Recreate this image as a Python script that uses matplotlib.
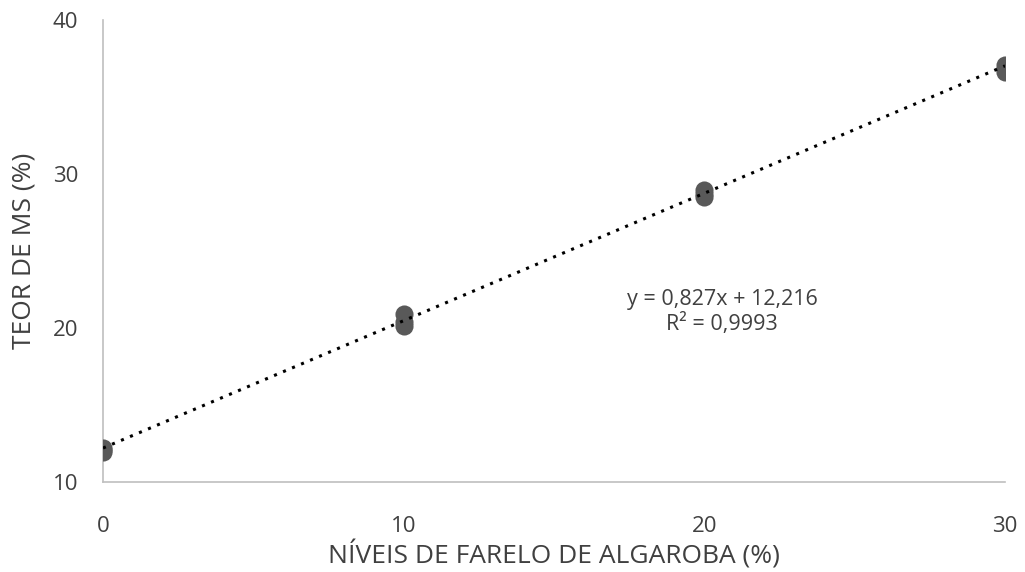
import matplotlib
matplotlib.use("Agg")
import matplotlib.pyplot as plt
import numpy as np

levels = [0, 0, 0, 10, 10, 10, 20, 20, 20, 30, 30, 30]
ms = [11.95, 12.1, 12.2, 20.15, 20.4, 20.9, 28.5, 28.7, 28.95, 36.6, 36.85, 37.1]
slope, intercept = 0.827, 12.216
eq_text = "y = 0,827x + 12,216\nR² = 0,9993"
xticks = [0, 10, 20, 30]
yticks = [10, 20, 30, 40]

plt.rcParams['font.family'] = ['Open Sans', 'DejaVu Sans']
fig = plt.figure(figsize=(10.25, 5.72), dpi=100)
ax = fig.add_axes([0.1005, 0.157, 0.88, 0.808])

ax.scatter(levels, ms, s=170, color='#595959', zorder=3, linewidths=0)
xx = np.array([min(levels), max(levels)])
ax.plot(xx, slope * xx + intercept, color='black', linestyle=(0, (1, 2.2)), linewidth=2.2, zorder=4)

ax.set_xlim(0, 30)
ax.set_ylim(10, 40)
ax.set_xticks(xticks)
ax.set_yticks(yticks)
ax.tick_params(length=0, labelsize=16, colors='#404040')
ax.tick_params(axis='y', pad=18)
ax.tick_params(axis='x', pad=24)
for s in ['top', 'right']:
    ax.spines[s].set_visible(False)
for s in ['left', 'bottom']:
    ax.spines[s].set_color('#BFBFBF')
    ax.spines[s].set_linewidth(1.2)

ax.set_xlabel("NÍVEIS DE FARELO DE ALGAROBA (%)", fontsize=19, color='#404040', va='center')
ax.xaxis.set_label_coords(0.5, -0.158)
ax.set_ylabel("TEOR DE MS (%)", fontsize=19, color='#404040', va='center')
ax.yaxis.set_label_coords(-0.0876, 0.5)
ax.text(20.59, 21.07, eq_text, ha='center', va='center', fontsize=15.5, color='#404040', linespacing=1.18)

fig.savefig("out.png", dpi=100, facecolor='white')
